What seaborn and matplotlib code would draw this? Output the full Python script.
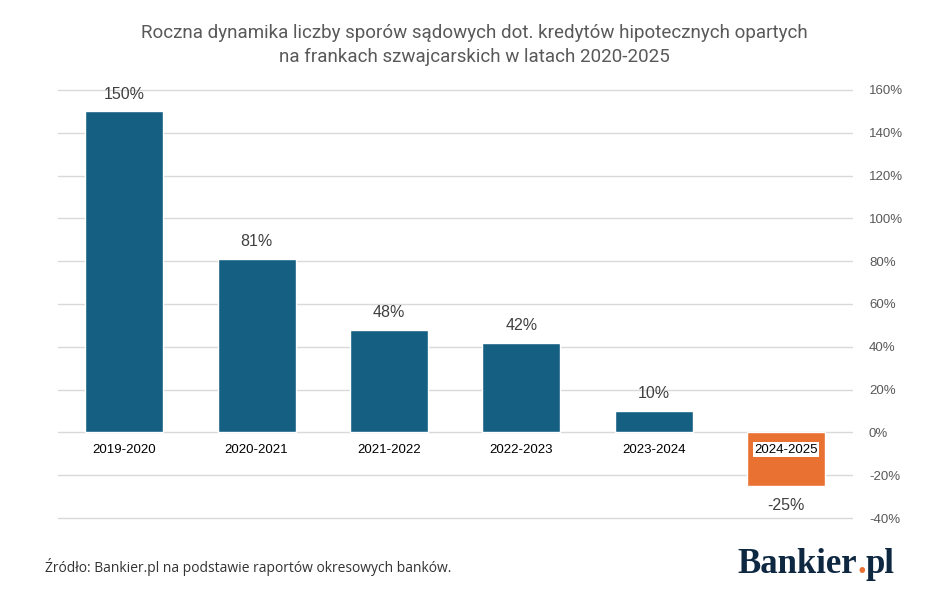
import matplotlib
matplotlib.use("Agg")
import matplotlib.pyplot as plt
import seaborn as sns
import pandas as pd
from matplotlib.ticker import FuncFormatter

# --- Data ---
periods = ["2019-2020", "2020-2021", "2021-2022", "2022-2023", "2023-2024", "2024-2025"]
growth_pct = [150, 81, 48, 42, 10, -25]
y_ticks = [-40, -20, 0, 20, 40, 60, 80, 100, 120, 140, 160]

BLUE = "#156082"
ORANGE = "#E97132"
NAVY = "#0E2841"


def main():
    df = pd.DataFrame({"period": periods, "growth": growth_pct})
    colors = [ORANGE if v < 0 else BLUE for v in growth_pct]

    sns.set_theme(style="white")
    plt.rcParams["font.family"] = ["Liberation Sans", "DejaVu Sans"]

    fig = plt.figure(figsize=(9.48, 6.08), dpi=100)
    ax = fig.add_axes([0.0612, 0.148, 0.8378, 0.704])

    sns.barplot(data=df, x="period", y="growth", hue="period", palette=colors,
                legend=False, width=0.59, saturation=1, ax=ax, zorder=3)

    ax.set_ylim(-40, 160)
    ax.set_xlim(-0.5, len(periods) - 0.5)
    ax.set_yticks(y_ticks)
    ax.yaxis.set_major_formatter(FuncFormatter(lambda v, _: f"{v:.0f}%"))
    ax.yaxis.tick_right()
    ax.tick_params(axis="y", length=0, pad=12, labelsize=9.5, labelcolor="#595959")
    ax.grid(axis="y", color="#d9d9d9", linewidth=1, zorder=0)
    for line in ax.get_ygridlines():
        line.set_clip_on(False)
    for s in ax.spines.values():
        s.set_visible(False)
    ax.set_xlabel("")
    ax.set_ylabel("")
    ax.set_xticks([])

    # category labels below the zero line
    for i, p in enumerate(periods):
        ax.text(i, -8, p, ha="center", va="center", fontsize=9.5, color="black",
                zorder=5, bbox=dict(facecolor="white", edgecolor="none", pad=1))

    # value labels
    for i, v in enumerate(growth_pct):
        y = v + 8 if v >= 0 else v - 9
        ax.text(i, y, f"{v}%", ha="center", va="center", fontsize=11.5,
                color="#404040", zorder=5)

    fig.text(0.5, 0.926, "Roczna dynamika liczby sporów sądowych dot. kredytów hipotecznych opartych\n"
             "na frankach szwajcarskich w latach 2020-2025",
             ha="center", va="center", fontsize=13.5, color="#595959",
             family=["Roboto", "DejaVu Sans"], linespacing=1.45)

    fig.text(0.047, 0.068, "Źródło: Bankier.pl na podstawie raportów okresowych banków.",
             ha="left", va="center", fontsize=10, color="#333333",
             family=["Open Sans", "DejaVu Sans"])

    # logo: "Bankier" + orange dot + "pl"
    logo_kw = dict(va="baseline", fontsize=25, fontweight="bold",
                   family=["Liberation Serif", "DejaVu Serif"])
    base_y = 0.058
    t1 = fig.text(0.778, base_y, "Bankier", ha="left", color=NAVY, **logo_kw)
    fig.canvas.draw()
    r = fig.canvas.get_renderer()
    x1 = fig.transFigure.inverted().transform(t1.get_window_extent(r))[1][0]
    t2 = fig.text(x1, base_y, ".", ha="left", color=ORANGE, **logo_kw)
    x2 = fig.transFigure.inverted().transform(t2.get_window_extent(r))[1][0]
    fig.text(x2, base_y, "pl", ha="left", color=NAVY, **logo_kw)

    fig.savefig("out.png", dpi=100)


if __name__ == "__main__":
    main()
